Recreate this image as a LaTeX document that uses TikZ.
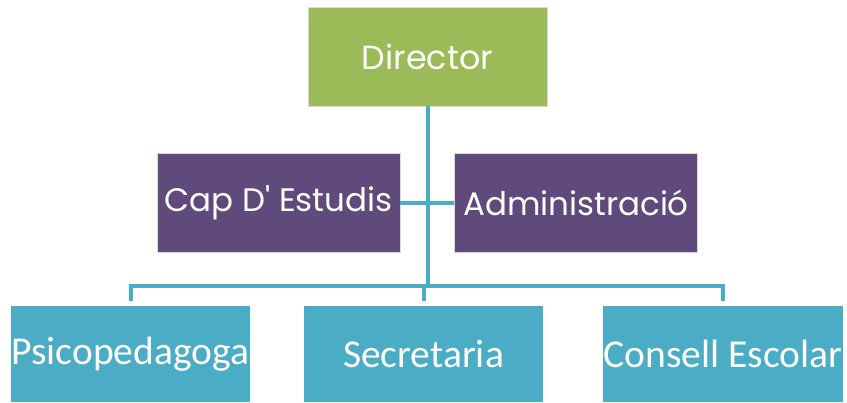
\documentclass[tikz,border=0pt]{standalone}
\usepackage{fontspec}
\setmainfont{Poppins}
\newfontfamily\calfont{Carlito}
\definecolor{dirgreen}{HTML}{9BBB59}
\definecolor{midpurple}{HTML}{604A7B}
\definecolor{lowblue}{HTML}{4BACC6}
\begin{document}
\begin{tikzpicture}[x=0.02cm,y=-0.02cm]
      % Define styles for nodes
      \tikzstyle{topbox} = [draw=white!85!black, rectangle, fill=dirgreen,
      minimum width=4.78cm, minimum height=1.98cm, text=white,
      font=\fontsize{19}{21}\selectfont, inner sep=0pt]
      \tikzstyle{midbox} = [draw=white!85!black, rectangle, fill=midpurple,
      minimum width=4.86cm, minimum height=1.98cm, text=white,
      font=\fontsize{18.5}{20}\selectfont, inner sep=0pt]
      \tikzstyle{lowbox} = [rectangle, fill=lowblue,
      minimum width=4.8cm, minimum height=1.92cm, text=white,
      font=\calfont\fontsize{22.5}{24}\selectfont, inner sep=0pt]
      \tikzstyle{conn} = [draw=lowblue, line width=0.08cm]

      \useasboundingbox (0,0) rectangle (847,402);

      % Director at top
      \node[topbox] (director) at (427.5,56.5) {Director};

      % Second level
      \node[midbox] (cap) at (278.5,202.5) {Cap D\textquotesingle{} Estudis};
      \node[midbox] (admin) at (576,202.5) {Administració};

      % Bottom level
      \node[lowbox] (psico) at (130.5,354) {Psicopedagoga};
      \node[lowbox] (secr) at (423.5,354) {Secretaria};
      \node[lowbox] (consell) at (723,354) {Consell Escolar};

      % Connections
      \coordinate (bus) at (0,286);
      \draw[conn] (director.south) -- (director.south |- bus);
      \draw[conn] (cap.east) -- (admin.west);
      \draw[conn] ([yshift=0.1cm]psico.north) |- (consell.north |- bus)
      -- ([yshift=0.1cm]consell.north);
      \draw[conn] ([yshift=0.1cm]secr.north) -- (secr.north |- bus);
    \end{tikzpicture}
\end{document}
